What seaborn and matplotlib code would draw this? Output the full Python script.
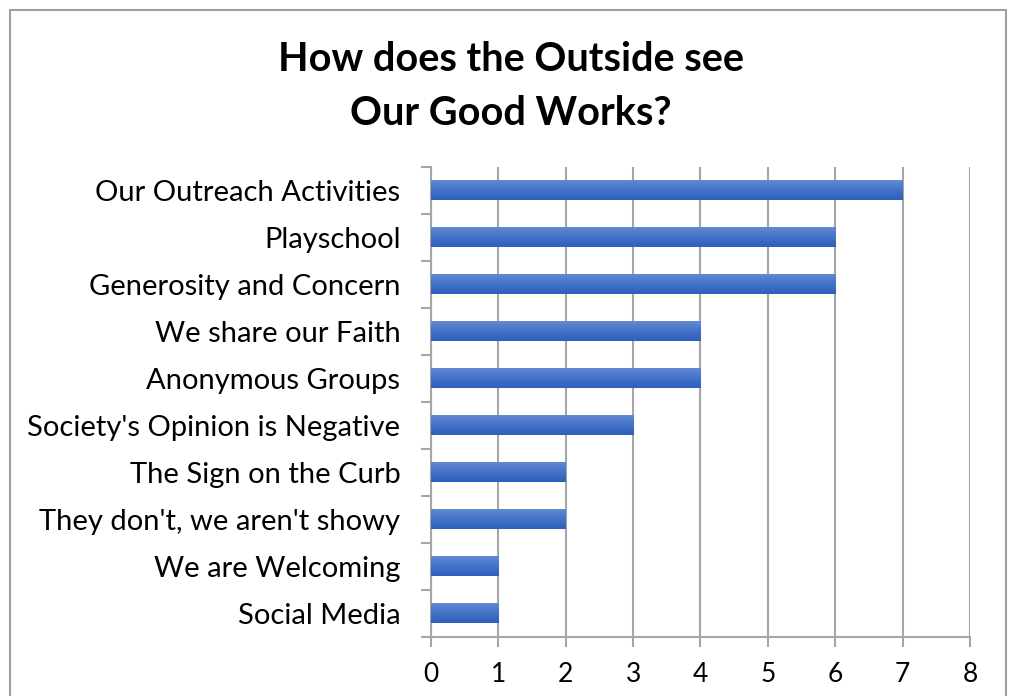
import numpy as np
import pandas as pd
import seaborn as sns
import matplotlib.pyplot as plt
from matplotlib.patches import Rectangle
from matplotlib.colors import LinearSegmentedColormap

categories = [
    "Our Outreach Activities",
    "Playschool",
    "Generosity and Concern",
    "We share our Faith",
    "Anonymous Groups",
    "Society's Opinion is Negative",
    "The Sign on the Curb",
    "They don't, we aren't showy",
    "We are Welcoming",
    "Social Media",
]
counts = [7, 6, 6, 4, 4, 3, 2, 2, 1, 1]
x_ticks = [0, 1, 2, 3, 4, 5, 6, 7, 8]

sns.set_theme(style="white")
plt.rcParams["font.family"] = ["Lato", "DejaVu Sans"]

df = pd.DataFrame({"answer": categories, "count": counts})

fig = plt.figure(figsize=(10.11, 6.96), dpi=100)
ax = fig.add_axes([0.4263, 0.0848, 0.9594 - 0.4263, 0.760 - 0.0848])

sns.barplot(data=df, x="count", y="answer", orient="h", ax=ax,
            color="#3f6cc8", width=0.42, zorder=3)

# vertical gradient fill on each bar
grad_cmap = LinearSegmentedColormap.from_list("bar", ["#6389d2", "#4472c8", "#2f5fbd"])
grad = np.linspace(0, 1, 64).reshape(-1, 1)
for p in ax.patches:
    x0, y0 = p.get_x(), p.get_y()
    w, h = p.get_width(), p.get_height()
    p.set_facecolor("none")
    p.set_edgecolor("none")
    ax.imshow(grad, cmap=grad_cmap, aspect="auto", interpolation="bilinear",
              extent=(x0, x0 + w, y0 + h, y0), origin="upper", zorder=3)

ax.set_xlim(0, 8)
ax.set_ylim(len(categories) - 0.5, -0.5)
ax.set_xticks(x_ticks)
ax.set_xticklabels([str(v) for v in x_ticks])
ax.set_xlabel("")
ax.set_ylabel("")

grid_col = "#a6a6a6"
ax.grid(axis="x", color=grid_col, linewidth=1.5, zorder=0)
ax.grid(axis="y", visible=False)
for side in ["top", "right"]:
    ax.spines[side].set_visible(False)
for side in ["left", "bottom"]:
    ax.spines[side].set_color(grid_col)
    ax.spines[side].set_linewidth(1.5)

# category separators as minor ticks on the left axis
ax.set_yticks(np.arange(-0.5, len(categories), 1.0), minor=True)
ax.tick_params(axis="y", which="major", length=0, labelsize=21, pad=22, colors="black")
ax.tick_params(axis="y", which="minor", length=7, width=1.5, color=grid_col, left=True)
ax.tick_params(axis="x", which="major", length=7, width=1.5, color=grid_col,
               bottom=True, labelsize=19, pad=11, labelcolor="black")

fig.text(0.505, 0.876, "How does the Outside see\nOur Good Works?", ha="center",
         va="center", fontsize=28.5, fontweight="bold", linespacing=1.58, color="black")

# chart frame
fig.add_artist(Rectangle((10 / 1011, -0.1), (1006 - 10) / 1011, 1 - 10 / 696 + 0.1,
                         transform=fig.transFigure, fill=False,
                         edgecolor="#a0a0a0", linewidth=1.5))

fig.savefig("out.png", dpi=100)
